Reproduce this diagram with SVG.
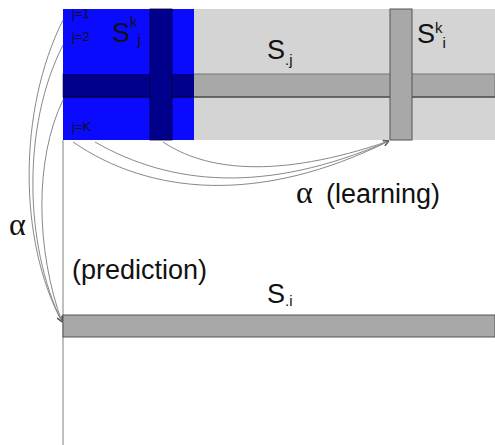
<svg xmlns="http://www.w3.org/2000/svg" width="495" height="445" viewBox="0 0 495 445">
<style>
.t{font-family:"Liberation Sans",Arial,sans-serif;fill:#111}
.a{font-family:"Liberation Serif","Times New Roman",serif;fill:#111}
.c{fill:none;stroke:#888;stroke-width:1}
</style>
<defs>
<marker id="ar" viewBox="0 0 10 10" refX="9" refY="5" markerWidth="7" markerHeight="7" orient="auto" markerUnits="userSpaceOnUse">
<path d="M1,1 L9,5 L1,9" fill="none" stroke="#555" stroke-width="1.2"/>
</marker>
</defs>
<rect width="495" height="445" fill="#fff"/>
<g id="matrix">
<rect x="194" y="9" width="301" height="131" fill="#d4d4d4"/>
<rect x="63" y="74" width="432" height="23" fill="#a8a8a8" stroke="#777" stroke-width="1"/>
<line x1="63" y1="97" x2="495" y2="97" stroke="#333" stroke-width="1"/>
<rect x="63" y="9" width="131" height="131" fill="#0a0aff"/>
<rect x="63" y="74" width="131" height="23" fill="#00008c"/>
<line x1="63" y1="97" x2="194" y2="97" stroke="#000" stroke-width="1"/>
<rect x="150" y="9" width="22" height="131" fill="#00008c" stroke="#000030" stroke-width="0.8"/>
<text class="t" x="72" y="18" font-size="13">j=1</text>
<text class="t" x="72" y="41" font-size="13">j=2</text>
<text class="t" x="72" y="131" font-size="13">j=K</text>
<text class="t" x="112" y="42" font-size="27">S<tspan font-size="15" dy="-15">k</tspan><tspan font-size="15" dy="18">j</tspan></text>
</g>
<g id="Sj">
<text class="t" x="267" y="59" font-size="27">S<tspan font-size="15" dy="6">.j</tspan></text>
</g>
<g id="Ski">
<rect x="390" y="9" width="22" height="131" fill="#a8a8a8" stroke="#555" stroke-width="1"/>
<text class="t" x="417" y="43" font-size="27">S<tspan font-size="15" dy="-10">k</tspan><tspan font-size="15" dy="15">i</tspan></text>
</g>
<g id="axis">
<line x1="63" y1="140" x2="63" y2="445" stroke="#aaa" stroke-width="1.5"/>
</g>
<g id="Si">
<rect x="63" y="315" width="432" height="22" fill="#a8a8a8" stroke="#555" stroke-width="1"/>
<text class="t" x="267" y="303" font-size="27">S<tspan font-size="15" dy="3">.i</tspan></text>
</g>
<g id="connectors">
<path class="c" d="M63,20 C18,110 18,240 62,322" marker-end="url(#ar)"/>
<path class="c" d="M63,45 C22,125 24,245 62,322" marker-end="url(#ar)"/>
<path class="c" d="M63,100 C34,160 36,250 62,322" marker-end="url(#ar)"/>
<path class="c" d="M73,142 C150,195 260,205 389,141" marker-end="url(#ar)"/>
<path class="c" d="M95,142 C170,185 265,195 389,141" marker-end="url(#ar)"/>
<path class="c" d="M163,142 C205,170 275,180 389,141" marker-end="url(#ar)"/>
</g>
<text class="a" x="296" y="203" font-size="32">α</text>
<text class="t" x="326" y="203" font-size="27">(learning)</text>
<text class="a" x="9" y="235" font-size="32">α</text>
<text class="t" x="72" y="279" font-size="27">(prediction)</text>
</svg>
